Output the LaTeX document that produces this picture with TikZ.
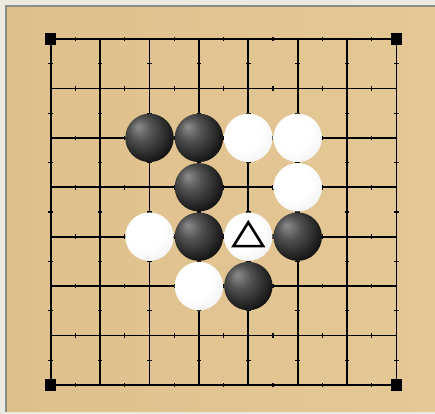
\documentclass[tikz,border=0pt]{standalone}
\usetikzlibrary{positioning}
\definecolor{wood}{RGB}{222,192,140}
\definecolor{woodlight}{RGB}{228,200,150}
\definecolor{rim}{RGB}{140,140,136}
\definecolor{paper}{RGB}{234,234,224}
\pgfdeclareradialshading{blackstone}{\pgfpoint{-12bp}{12bp}}{color(0bp)=(black!45);color(12bp)=(black!68);color(30bp)=(black!92);color(50bp)=(black)}
\pgfdeclareradialshading{whitestone}{\pgfpoint{-10bp}{10bp}}{color(0bp)=(white);color(20bp)=(white);color(38bp)=(black!7);color(50bp)=(black!18);color(60bp)=(black!30)}
\tikzset{
  bstone/.style={circle, minimum size=0.98cm, inner sep=0pt, shade, shading=blackstone},
  wstone/.style={circle, minimum size=0.98cm, inner sep=0pt, shade, shading=whitestone},
  corner/.style={rectangle, minimum size=0.23cm, inner sep=0pt, fill=black},
  halftick/.style={line width=0.7pt},
  lastmove/.style={line width=1.5pt, line join=miter}
}
\begin{document}
\begin{tikzpicture}
    % ---------------- BOARD ----------------
    \useasboundingbox (-1.026,-0.588) rectangle (7.779,7.791);
    \fill[paper] (-1.026,-0.588) rectangle (7.779,7.791);
    \shade[left color=wood, right color=woodlight] (-0.905,-0.548) rectangle (7.779,7.669);
    \draw[rim, line width=1.1pt] (-0.905,-0.548) -- (-0.905,7.669) -- (7.779,7.669);

    % grid lines and half-point ticks
    \draw[line width=1.1pt] (0,0) grid (7,7);
    \foreach \i in {0,...,7} {
        \foreach \j in {0,...,6} {
            \draw[halftick] (\j+0.5,\i-0.045) -- (\j+0.5,\i+0.045);
            \draw[halftick] (\i-0.045,\j+0.5) -- (\i+0.045,\j+0.5);
        }
    }

    % corner markers
    \node[corner] (c1) at (0,7) {};
    \node[corner] (c2) at (7,7) {};
    \node[corner] (c3) at (0,0) {};
    \node[corner] (c4) at (7,0) {};

    % ---------------- STONES ----------------
    \node[bstone] (b1) at (2,5) {}; \node[bstone] (b2) at (3,5) {};
    \node[wstone] (w1) at (4,5) {}; \node[wstone] (w2) at (5,5) {};
    \node[bstone] (b3) at (3,4) {}; \node[wstone] (w3) at (5,4) {};
    \node[wstone] (w4) at (2,3) {}; \node[bstone] (b4) at (3,3) {};
    \node[wstone] (w5) at (4,3) {}; \node[bstone] (b5) at (5,3) {};
    \node[wstone] (w6) at (3,2) {}; \node[bstone] (b6) at (4,2) {};

    % last move triangle
    \draw[lastmove] ([shift={(0,0.29)}]w5.center) -- ([shift={(0.3,-0.19)}]w5.center)
        -- ([shift={(-0.3,-0.19)}]w5.center) -- cycle;
\end{tikzpicture}
\end{document}
